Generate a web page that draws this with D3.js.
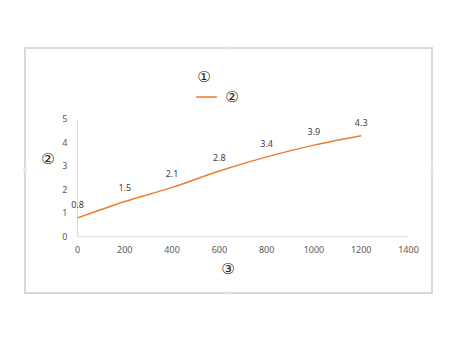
<!DOCTYPE html>
<html>
<head>
<meta charset="utf-8">
<script src="https://cdn.jsdelivr.net/npm/d3@7"></script>
<style>
  body { margin: 0; background: #fff; }
  text { font-family: "Noto Sans", "DejaVu Sans", sans-serif; }
  .circ { font-family: "DejaVu Sans", sans-serif; }
</style>
</head>
<body>
<div id="chart"></div>
<script>
var width = 450;
var height = 338;

// data
var xValues = [0, 200, 400, 600, 800, 1000, 1200];
var yValues = [0.8, 1.5, 2.1, 2.8, 3.4, 3.9, 4.3];
var xTicks = [0, 200, 400, 600, 800, 1000, 1200, 1400];
var yTicks = [0, 1, 2, 3, 4, 5];
var chartTitle = "①";
var seriesName = "②";
var yTitle = "②";
var xTitle = "③";

var svg = d3.select("#chart")
    .append("svg")
    .attr("width", width)
    .attr("height", height);

// frame
svg.append("rect")
    .attr("x", 25)
    .attr("y", 48)
    .attr("width", 407)
    .attr("height", 245)
    .attr("fill", "#fff")
    .attr("stroke", "#d9d9d9")
    .attr("stroke-width", 2);

// small handles on the frame
[[228, 48], [228, 293]].forEach(function (p) {
    svg.append("rect").attr("x", p[0] - 3).attr("y", p[1] - 1.5)
        .attr("width", 6).attr("height", 3).attr("fill", "#e6e6e6");
});
[[25, 170], [432, 170]].forEach(function (p) {
    svg.append("rect").attr("x", p[0] - 1.5).attr("y", p[1] - 3)
        .attr("width", 3).attr("height", 6).attr("fill", "#e6e6e6");
});

var x = d3.scaleLinear().domain([0, 1400]).range([77.5, 408.5]);
var y = d3.scaleLinear().domain([0, 5]).range([236.7, 119.3]);

// axes lines
svg.append("line")
    .attr("x1", x(0)).attr("x2", x(1400))
    .attr("y1", y(0)).attr("y2", y(0))
    .attr("stroke", "#d9d9d9").attr("stroke-width", 1);
svg.append("line")
    .attr("x1", x(0)).attr("x2", x(0))
    .attr("y1", y(0)).attr("y2", y(5))
    .attr("stroke", "#d9d9d9").attr("stroke-width", 1);

// tick labels
svg.selectAll(".xt").data(xTicks).enter().append("text")
    .attr("x", function (d) { return x(d); })
    .attr("y", y(0) + 16)
    .attr("text-anchor", "middle")
    .attr("font-size", 9)
    .attr("fill", "#595959")
    .text(function (d) { return d; });

svg.selectAll(".yt").data(yTicks).enter().append("text")
    .attr("x", x(0) - 10)
    .attr("y", function (d) { return y(d) + 3; })
    .attr("text-anchor", "end")
    .attr("font-size", 9)
    .attr("fill", "#595959")
    .text(function (d) { return d; });

// series line
var pts = xValues.map(function (d, i) { return [d, yValues[i]]; });
var line = d3.line()
    .x(function (d) { return x(d[0]); })
    .y(function (d) { return y(d[1]); })
    .curve(d3.curveMonotoneX);

svg.append("path")
    .datum(pts)
    .attr("d", line)
    .attr("fill", "none")
    .attr("stroke", "#ed7d31")
    .attr("stroke-width", 1.5);

// data labels
svg.selectAll(".lbl").data(pts).enter().append("text")
    .attr("x", function (d) { return x(d[0]); })
    .attr("y", function (d) { return y(d[1]) - 10; })
    .attr("text-anchor", "middle")
    .attr("font-size", 9)
    .attr("fill", "#404040")
    .text(function (d) { return d[1]; });

// title
svg.append("text")
    .attr("class", "circ")
    .attr("x", 204).attr("y", 82)
    .attr("text-anchor", "middle")
    .attr("font-size", 15)
    .attr("fill", "#222")
    .text(chartTitle);

// legend
svg.append("line")
    .attr("x1", 196).attr("x2", 217)
    .attr("y1", 97).attr("y2", 97)
    .attr("stroke", "#ed7d31").attr("stroke-width", 1.5);
svg.append("text")
    .attr("class", "circ")
    .attr("x", 232).attr("y", 102)
    .attr("text-anchor", "middle")
    .attr("font-size", 15)
    .attr("fill", "#222")
    .text(seriesName);

// axis titles
svg.append("text")
    .attr("class", "circ")
    .attr("x", 48).attr("y", 164)
    .attr("text-anchor", "middle")
    .attr("font-size", 15)
    .attr("fill", "#222")
    .text(yTitle);

svg.append("text")
    .attr("class", "circ")
    .attr("x", 228).attr("y", 274)
    .attr("text-anchor", "middle")
    .attr("font-size", 15)
    .attr("fill", "#222")
    .text(xTitle);
</script>
</body>
</html>
